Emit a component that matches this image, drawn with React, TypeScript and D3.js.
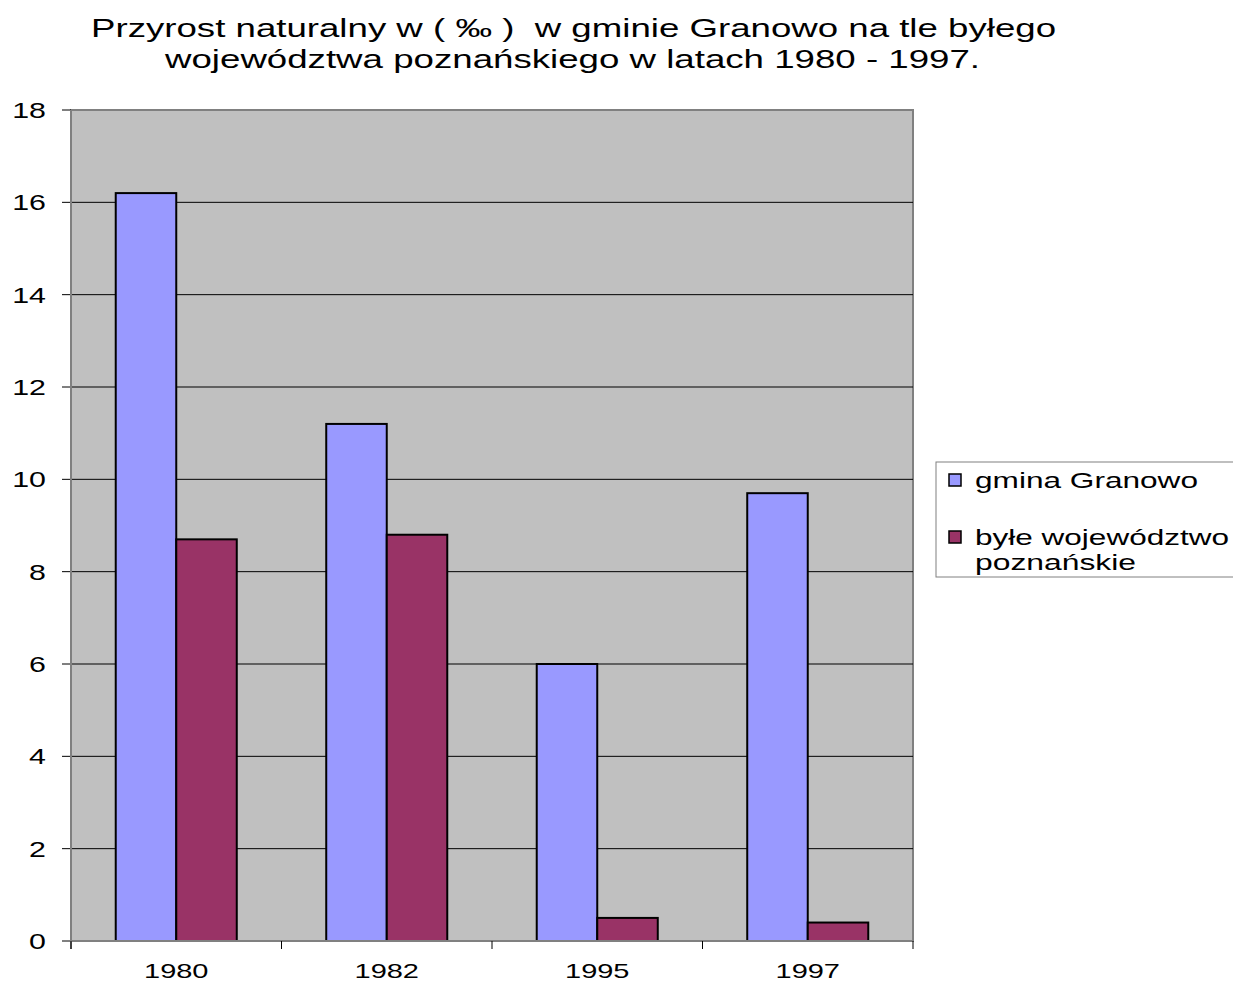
import React from "react";
import * as d3 from "d3";

const categories = ["1980", "1982", "1995", "1997"];
const seriesNames = ["gmina Granowo", "byłe województwo poznańskie"];
const granowo = [16.2, 11.2, 6.0, 9.7];
const poznanskie = [8.7, 8.8, 0.5, 0.4];
const yTicks = [0, 2, 4, 6, 8, 10, 12, 14, 16, 18];
const colors = ["#9999FF", "#993366"];

export default function App() {
  const W = 1233, H = 983;
  const left = 71, right = 913, top = 110, bottom = 941;
  const x = d3.scaleBand<string>().domain(categories).range([left, right]).padding(0);
  const y = d3.scaleLinear().domain([0, 18]).range([bottom, top]);
  const bw = x.bandwidth();
  const inner = d3.scaleBand<string>().domain(["a", "b"]).range([bw * 0.2125, bw * 0.7875]).padding(0);
  const series = [granowo, poznanskie];
  const font = "Liberation Sans, Arial, sans-serif";
  const sx = 1.38;
  return (
    <svg width={W} height={H} style={{ position: "absolute", left: 0, top: 0 }} fontFamily={font}>
      <rect x={0} y={0} width={W} height={H} fill="#fff" />
      <text x={91} y={37} fontSize={25} textLength={965} lengthAdjust="spacingAndGlyphs" style={{ whiteSpace: "pre" }}>Przyrost naturalny w ( ‰ )  w gminie Granowo na tle byłego</text>
      <text x={165} y={68} fontSize={25} textLength={815} lengthAdjust="spacingAndGlyphs">województwa poznańskiego w latach 1980 - 1997.</text>
      <rect x={left} y={top} width={right - left} height={bottom - top} fill="#C0C0C0" stroke="#808080" strokeWidth={2} />
      {yTicks.map((t) => (
        <g key={t}>
          {t > 0 && t < 18 && <line x1={left} x2={right} y1={y(t)} y2={y(t)} stroke="#000" strokeWidth={1} />}
          <line x1={62} x2={left} y1={y(t)} y2={y(t)} stroke="#000" strokeWidth={1} />
          <g transform={`translate(46,${y(t) + 8}) scale(${sx},1)`}>
            <text x={0} y={0} textAnchor="end" fontSize={22}>{t}</text>
          </g>
        </g>
      ))}
      {categories.map((c, i) =>
        series.map((s, j) => (
          <rect key={c + j} x={(x(c) as number) + (inner(j === 0 ? "a" : "b") as number)} y={y(s[i])}
            width={inner.bandwidth()} height={bottom - y(s[i])} fill={colors[j]} stroke="#000" strokeWidth={2} />
        ))
      )}
      <line x1={left} x2={left} y1={top} y2={bottom + 8} stroke="#808080" strokeWidth={2} />
      <line x1={62} x2={right + 1} y1={bottom} y2={bottom} stroke="#808080" strokeWidth={2} />
      {categories.concat(["end"]).map((c, i) => {
        const xx = left + i * bw;
        return <line key={"t" + i} x1={xx} x2={xx} y1={bottom} y2={bottom + 8} stroke="#000" strokeWidth={1} />;
      })}
      {categories.map((c) => (
        <g key={"l" + c} transform={`translate(${(x(c) as number) + bw / 2},978) scale(${sx},1)`}>
          <text x={0} y={0} textAnchor="middle" fontSize={21}>{c}</text>
        </g>
      ))}
      <rect x={936} y={462} width={310} height={115} fill="#fff" stroke="#808080" strokeWidth={1} />
      <rect x={949} y={474} width={12} height={12} fill={colors[0]} stroke="#000" strokeWidth={1.5} />
      <text x={975} y={488} fontSize={22} textLength={223} lengthAdjust="spacingAndGlyphs">{seriesNames[0]}</text>
      <rect x={949} y={531} width={12} height={12} fill={colors[1]} stroke="#000" strokeWidth={1.5} />
      <text x={975} y={545} fontSize={22} textLength={254} lengthAdjust="spacingAndGlyphs">byłe województwo</text>
      <text x={975} y={570} fontSize={22} textLength={161} lengthAdjust="spacingAndGlyphs">poznańskie</text>
    </svg>
  );
}
